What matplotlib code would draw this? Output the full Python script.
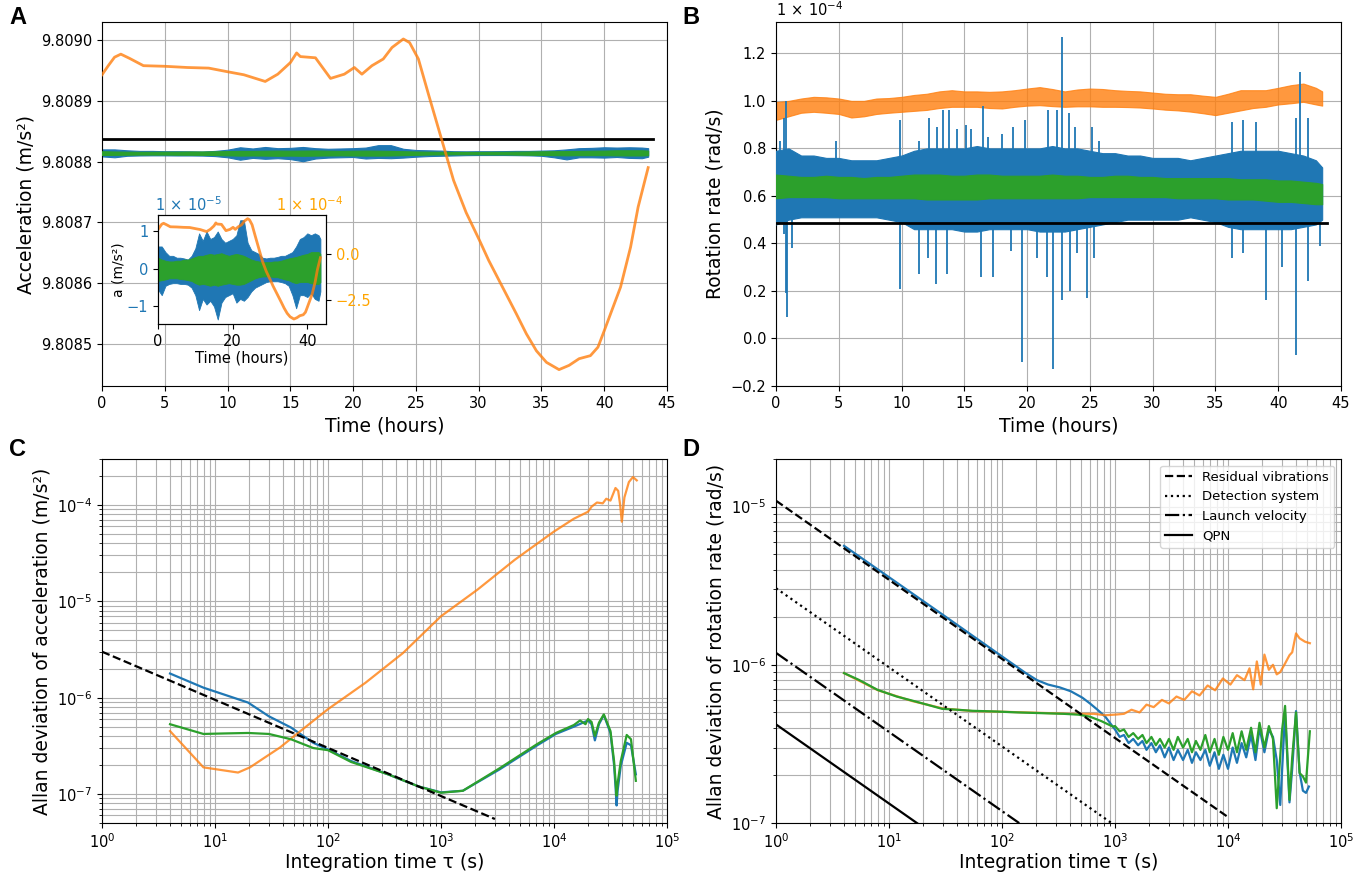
import numpy as np
import matplotlib
matplotlib.use('Agg')
import matplotlib.pyplot as plt
from matplotlib.ticker import FormatStrFormatter

# ---------------- data ----------------
hours = [0, 1, 2, 3, 4, 5, 6, 7, 8, 9, 10, 11, 12, 13, 14, 15, 16, 17, 18, 19, 20,
         21, 22, 23, 24, 25, 26, 27, 28, 29, 30, 31, 32, 33, 34, 35, 36, 37, 38, 39,
         40, 41, 42, 43, 43.5]

# Panel A: deviations of the acceleration (units of 1e-5 m/s^2)
acc_blue_hi = [0.6, 0.6, 0.45, 0.35, 0.35, 0.3, 0.3, 0.28, 0.25, 0.35,
               0.55, 0.95, 0.75, 1.0, 0.8, 0.85, 1.0, 0.8, 0.7, 0.75,
               0.8, 0.9, 1.3, 1.3, 0.7, 0.5, 0.45, 0.4, 0.3, 0.28,
               0.3, 0.3, 0.32, 0.35, 0.35, 0.4, 0.45, 0.6, 0.8, 0.85,
               0.95, 0.9, 0.95, 0.9, 0.8]
acc_blue_lo = [-0.55, -0.7, -0.45, -0.4, -0.38, -0.38, -0.4, -0.4, -0.42, -0.5,
               -0.7, -1.1, -0.8, -0.95, -0.85, -1.0, -1.35, -0.9, -0.75, -0.7,
               -0.65, -0.9, -0.8, -0.85, -0.75, -0.6, -0.5, -0.45, -0.4, -0.35,
               -0.33, -0.33, -0.33, -0.35, -0.38, -0.45, -0.7, -1.05, -0.7, -0.7,
               -0.75, -0.65, -0.8, -0.85, -0.6]
acc_green_hi = [0.3, 0.25, 0.22, 0.2, 0.2, 0.22, 0.22, 0.25, 0.25, 0.28,
                0.32, 0.35, 0.35, 0.38, 0.4, 0.38, 0.4, 0.42, 0.38, 0.35,
                0.38, 0.4, 0.38, 0.35, 0.3, 0.25, 0.22, 0.2, 0.18, 0.18,
                0.18, 0.2, 0.2, 0.22, 0.25, 0.28, 0.3, 0.32, 0.35, 0.38,
                0.4, 0.45, 0.45, 0.45, 0.4]
acc_green_lo = [-0.32, -0.3, -0.28, -0.25, -0.25, -0.25, -0.27, -0.28, -0.3, -0.32,
                -0.38, -0.42, -0.4, -0.42, -0.45, -0.42, -0.45, -0.42, -0.4, -0.38,
                -0.4, -0.42, -0.42, -0.4, -0.35, -0.3, -0.25, -0.22, -0.2, -0.2,
                -0.2, -0.22, -0.22, -0.25, -0.28, -0.3, -0.35, -0.38, -0.35, -0.35,
                -0.35, -0.38, -0.4, -0.4, -0.35]
g_mean = 9.808814          # level of the blue / green records (m/s^2)
g_reference = 9.808837     # black reference line (m/s^2)
orange_mean = 9.80881      # offset removed in the inset
ref_hours = [0, 43.9]

orange_t = [0, 0.5, 1.0, 1.5, 2.2, 3.3, 5, 6.8, 8.5, 10, 11.3, 13, 14, 15, 15.5,
            15.8, 17, 18.2, 19.3, 20.1, 20.7, 21.5, 22.4, 23.1, 24, 24.5, 25.2, 26,
            27, 28, 29, 30, 30.8, 31.9, 33, 33.8, 34.6, 35.4, 36.4, 37.2, 38, 38.9,
            39.5, 40, 41.3, 42.1, 42.7, 43.5]
orange_acc = [9.808943, 9.808958, 9.808972, 9.808977, 9.808970, 9.808958, 9.808957,
              9.808955, 9.808954, 9.808948, 9.808943, 9.808932, 9.808944, 9.808963,
              9.808979, 9.808973, 9.808971, 9.808937, 9.808944, 9.808955, 9.808944,
              9.808958, 9.808969, 9.808988, 9.809002, 9.808996, 9.808969, 9.808911,
              9.808840, 9.808769, 9.808716, 9.808673, 9.808637, 9.808593, 9.808549,
              9.808516, 9.808488, 9.808469, 9.808457, 9.808464, 9.808475, 9.808480,
              9.808494, 9.808521, 9.808593, 9.808659, 9.808725, 9.808790]

# Panel B: rotation rate (units of 1e-4 rad/s)
rot_orange_hi = [0.995, 1.0, 1.01, 1.017, 1.015, 1.01, 1.0, 1.0, 1.01, 1.012,
                 1.017, 1.025, 1.03, 1.04, 1.045, 1.04, 1.04, 1.038, 1.04, 1.045,
                 1.052, 1.058, 1.05, 1.04, 1.048, 1.052, 1.05, 1.045, 1.042, 1.04,
                 1.035, 1.03, 1.028, 1.028, 1.022, 1.017, 1.03, 1.045, 1.045, 1.045,
                 1.055, 1.066, 1.073, 1.055, 1.04]
rot_orange_lo = [0.92, 0.935, 0.95, 0.954, 0.95, 0.945, 0.93, 0.935, 0.945, 0.95,
                 0.954, 0.958, 0.962, 0.97, 0.975, 0.975, 0.975, 0.97, 0.968, 0.975,
                 0.98, 0.982, 0.978, 0.975, 0.977, 0.977, 0.975, 0.975, 0.974, 0.972,
                 0.968, 0.963, 0.96, 0.955, 0.948, 0.94, 0.95, 0.96, 0.97, 0.975,
                 0.985, 0.99, 0.996, 0.985, 0.98]
rot_blue_hi = [0.79, 0.8, 0.77, 0.77, 0.76, 0.76, 0.75, 0.75, 0.75, 0.76,
               0.77, 0.79, 0.8, 0.8, 0.8, 0.8, 0.81, 0.8, 0.8, 0.8,
               0.8, 0.8, 0.81, 0.8, 0.8, 0.79, 0.78, 0.78, 0.77, 0.77,
               0.76, 0.76, 0.76, 0.75, 0.76, 0.77, 0.78, 0.79, 0.79, 0.79,
               0.79, 0.78, 0.77, 0.75, 0.72]
rot_blue_lo = [0.48, 0.5, 0.51, 0.51, 0.51, 0.51, 0.51, 0.51, 0.51, 0.5,
               0.49, 0.46, 0.46, 0.46, 0.46, 0.45, 0.45, 0.46, 0.46, 0.46,
               0.46, 0.45, 0.45, 0.45, 0.46, 0.47, 0.48, 0.49, 0.5, 0.5,
               0.5, 0.5, 0.5, 0.51, 0.5, 0.49, 0.47, 0.46, 0.46, 0.46,
               0.46, 0.46, 0.47, 0.48, 0.5]
rot_green_hi = [0.69, 0.685, 0.68, 0.68, 0.685, 0.68, 0.68, 0.675, 0.68, 0.68,
                0.685, 0.69, 0.69, 0.69, 0.685, 0.685, 0.69, 0.69, 0.685, 0.685,
                0.685, 0.685, 0.69, 0.685, 0.685, 0.68, 0.68, 0.685, 0.685, 0.68,
                0.68, 0.675, 0.675, 0.675, 0.675, 0.675, 0.675, 0.67, 0.67, 0.67,
                0.665, 0.665, 0.66, 0.655, 0.65]
rot_green_lo = [0.59, 0.595, 0.595, 0.595, 0.595, 0.59, 0.59, 0.59, 0.59, 0.59,
                0.59, 0.59, 0.585, 0.585, 0.585, 0.585, 0.585, 0.59, 0.59, 0.59,
                0.59, 0.59, 0.59, 0.59, 0.59, 0.595, 0.595, 0.595, 0.595, 0.595,
                0.595, 0.595, 0.59, 0.59, 0.59, 0.59, 0.585, 0.585, 0.585, 0.58,
                0.575, 0.575, 0.57, 0.565, 0.565]
spike_up_t = [0.35, 0.6, 0.8, 4.8, 9.9, 11.4, 12.2, 12.8, 13.3, 13.8, 14.4, 15.1,
              15.5, 16.5, 16.9, 18.0, 18.9, 19.8, 21.7, 22.4, 22.75, 23.3, 23.8,
              25.2, 25.7, 36.3, 37.2, 38.2, 41.4, 41.7, 42.4]
spike_up_v = [0.83, 0.93, 1.0, 0.83, 0.92, 0.83, 0.93, 0.89, 0.96, 0.96, 0.88, 0.90,
              0.88, 0.98, 0.85, 0.86, 0.89, 0.92, 0.96, 0.96, 1.27, 0.95, 0.89,
              0.89, 0.83, 0.91, 0.92, 0.91, 0.93, 1.12, 0.93]
spike_dn_t = [0.63, 0.8, 0.9, 1.25, 9.9, 11.4, 12.1, 12.75, 13.6, 16.3, 17.3, 18.7,
              19.6, 20.8, 21.6, 22.1, 22.75, 23.4, 24.0, 24.8, 25.3, 36.3, 37.2,
              39.0, 40.3, 41.4, 42.4, 43.3]
spike_dn_v = [0.44, 0.19, 0.09, 0.38, 0.21, 0.27, 0.34, 0.23, 0.27, 0.26, 0.26, 0.37,
              -0.10, 0.34, 0.26, -0.13, 0.16, 0.20, 0.36, 0.17, 0.34, 0.34, 0.36,
              0.16, 0.30, -0.07, 0.24, 0.39]
rot_reference = 0.485

# Panel C: Allan deviation of acceleration (m/s^2)
tau_c_blue = [4, 7.9, 19.6, 30, 47, 74, 100, 160, 340, 630, 1000, 1560, 3300, 7100,
              10400, 15000, 20000, 21500, 23000, 25000, 27600, 31600, 34000, 35000,
              35800, 36600, 39000, 44000, 48000, 53000]
adev_c_blue = [1.78e-6, 1.27e-6, 8.9e-7, 6.4e-7, 4.9e-7, 3.4e-7, 2.9e-7, 2.2e-7,
               1.6e-7, 1.2e-7, 1.04e-7, 1.08e-7, 1.8e-7, 3.2e-7, 4.2e-7, 5.0e-7,
               5.8e-7, 5.3e-7, 3.6e-7, 5.3e-7, 6.6e-7, 4.3e-7, 2.0e-7, 1.2e-7,
               7.6e-8, 1.1e-7, 1.96e-7, 3.4e-7, 3.2e-7, 1.6e-7]
tau_c_green = [4, 7.9, 12, 19.6, 30, 47, 74, 100, 160, 340, 630, 1000, 1560, 3300,
               7100, 10400, 15000, 17000, 19000, 20000, 21500, 23000, 25000, 27600,
               31600, 34000, 35000, 35800, 36600, 39000, 44000, 48000, 53000]
adev_c_green = [5.3e-7, 4.2e-7, 4.25e-7, 4.3e-7, 4.2e-7, 3.7e-7, 3.0e-7, 2.85e-7,
                2.15e-7, 1.6e-7, 1.2e-7, 1.03e-7, 1.08e-7, 1.85e-7, 3.3e-7, 4.3e-7,
                5.2e-7, 5.8e-7, 5.3e-7, 6.0e-7, 5.6e-7, 4.0e-7, 5.5e-7, 6.7e-7,
                4.5e-7, 2.2e-7, 1.4e-7, 9.6e-8, 1.3e-7, 2.2e-7, 4.1e-7, 3.7e-7, 1.37e-7]
tau_c_orange = [4, 7.9, 16, 20.4, 27.7, 37.6, 55, 100, 215, 460, 1000, 2100, 4500,
                10000, 15000, 20000, 21500, 24000, 27000, 29000, 31600, 35000, 37000,
                38500, 39800, 42000, 46000, 50000, 54000]
adev_c_orange = [4.5e-7, 1.89e-7, 1.67e-7, 1.89e-7, 2.4e-7, 3.04e-7, 4.35e-7, 7.6e-7,
                 1.43e-6, 2.9e-6, 7.0e-6, 1.32e-5, 2.7e-5, 5.3e-5, 7.2e-5, 8.5e-5,
                 9.6e-5, 1.06e-4, 1.04e-4, 1.16e-4, 1.11e-4, 1.5e-4, 1.4e-4, 1.0e-4,
                 6.7e-5, 1.2e-4, 1.73e-4, 1.95e-4, 1.8e-4]
tau_c_vib = [1, 3000]
adev_c_vib = [3.0e-6, 5.5e-8]

# Panel D: Allan deviation of rotation rate (rad/s)
tau_d_blue = [4, 10, 30, 100, 161, 204, 256, 324, 407, 514, 600, 700, 820,
              1000, 1100, 1200, 1320, 1450, 1600, 1750, 1900, 2100, 2300, 2500, 2750,
              3000, 3300, 3600, 4000, 4400, 4800, 5200, 5700, 6300, 6900, 7600, 8300,
              9100, 10000, 11000, 12000, 13200, 14500, 16000, 17500, 19000, 21000,
              23000, 25000, 27000, 29000, 32000, 35000, 37000, 40000, 43000, 46000,
              49000, 52000]
adev_d_blue = [5.65e-6, 3.58e-6, 2.07e-6, 1.13e-6, 8.9e-7, 8.0e-7, 7.5e-7, 7.2e-7,
               6.8e-7, 6.2e-7, 5.7e-7, 5.2e-7, 4.7e-7,
               3.9e-7, 3.5e-7, 3.6e-7, 3.2e-7, 3.4e-7, 3.1e-7, 3.3e-7, 2.9e-7, 3.2e-7,
               2.8e-7, 3.1e-7, 2.6e-7, 3.0e-7, 2.5e-7, 2.9e-7, 2.5e-7, 2.9e-7, 2.4e-7,
               2.8e-7, 2.5e-7, 2.9e-7, 2.3e-7, 2.8e-7, 2.2e-7, 2.7e-7, 2.2e-7, 3.0e-7,
               2.4e-7, 3.2e-7, 2.6e-7, 3.6e-7, 2.5e-7, 4.0e-7, 2.8e-7, 3.9e-7, 3.5e-7,
               2.5e-7, 1.3e-7, 4.95e-7, 1.35e-7, 2.2e-7, 5.1e-7, 2.1e-7, 1.6e-7,
               1.55e-7, 1.7e-7]
tau_d_green = [4, 5.4, 7.9, 11.7, 15.9, 21.7, 29.5, 40, 54.6, 87, 138, 219, 350, 474,
               600, 760, 955,
               1000, 1100, 1200, 1320, 1450, 1600, 1750, 1900, 2100, 2300, 2500, 2750,
               3000, 3300, 3600, 4000, 4400, 4800, 5200, 5700, 6300, 6900, 7600, 8300,
               9100, 10000, 11000, 12000, 13200, 14500, 16000, 17500, 19000, 21000,
               23000, 25000, 27000, 30000, 32000, 35000, 37000, 40000, 43000, 46000,
               49000, 53000]
adev_d_green = [8.86e-7, 8.04e-7, 6.95e-7, 6.3e-7, 5.95e-7, 5.6e-7, 5.27e-7, 5.2e-7,
                5.12e-7, 5.07e-7, 5.0e-7, 4.95e-7, 4.9e-7, 4.84e-7, 4.7e-7, 4.4e-7,
                4.07e-7,
                4.1e-7, 3.8e-7, 3.9e-7, 3.5e-7, 3.7e-7, 3.4e-7, 3.6e-7, 3.2e-7, 3.5e-7,
                3.1e-7, 3.4e-7, 3.0e-7, 3.4e-7, 2.9e-7, 3.5e-7, 3.0e-7, 3.4e-7, 2.8e-7,
                3.3e-7, 2.9e-7, 3.6e-7, 2.8e-7, 3.4e-7, 2.7e-7, 3.5e-7, 2.9e-7, 3.7e-7,
                2.8e-7, 3.8e-7, 2.9e-7, 4.0e-7, 2.8e-7, 4.3e-7, 3.0e-7, 4.1e-7, 3.4e-7,
                1.24e-7, 3.8e-7, 5.5e-7, 1.4e-7, 2.6e-7, 5.0e-7, 2.07e-7, 1.97e-7,
                1.8e-7, 3.8e-7]
tau_d_orange = [4, 8, 16, 30, 54.6, 100, 200, 400, 650, 820, 1030, 1200, 1400, 1650,
                1900, 2200, 2600, 3000, 3500, 4100, 4800, 5600, 6600, 7700, 9000, 10500,
                12000, 14000, 15500, 16700, 18000, 19500, 21000, 23000, 25000, 27000,
                29000, 32000, 35000, 37000, 40000, 43000, 48000, 53000]
adev_d_orange = [8.86e-7, 6.9e-7, 5.9e-7, 5.3e-7, 5.1e-7, 5.05e-7, 4.98e-7, 4.9e-7,
                 4.9e-7, 4.8e-7, 4.85e-7, 4.9e-7, 5.2e-7, 5.0e-7, 5.6e-7, 5.4e-7, 6.0e-7,
                 5.7e-7, 6.3e-7, 6.0e-7, 6.8e-7, 6.4e-7, 7.4e-7, 6.9e-7, 8.2e-7, 7.5e-7,
                 8.6e-7, 8.0e-7, 9.5e-7, 7.0e-7, 1.05e-6, 7.5e-7, 1.16e-6, 9.3e-7, 1.0e-6,
                 8.7e-7, 9.0e-7, 1.02e-6, 1.15e-6, 1.2e-6, 1.58e-6, 1.47e-6, 1.4e-6,
                 1.37e-6]
tau_d_model = [1, 10000]
adev_d_vib = [1.09e-5, 1.09e-7]
adev_d_det = [3.05e-6, 3.05e-8]
adev_d_launch = [1.19e-6, 1.19e-8]
adev_d_qpn = [4.2e-7, 4.2e-9]
model_labels = ['Residual vibrations', 'Detection system', 'Launch velocity', 'QPN']

# ---------------- style ----------------
BLUE = '#1f77b4'
ORANGE = '#ff7f0e'
GREEN = '#2ca02c'
OA = 0.8
TICK = 10.5
LAB = 13.5

plt.rcParams['font.family'] = ['DejaVu Sans']
plt.rcParams['xtick.labelsize'] = TICK
plt.rcParams['ytick.labelsize'] = TICK

W, H = 1363, 875
fig = plt.figure(figsize=(W / 100, H / 100), dpi=100)


def box(x0, y0, x1, y1):
    return [x0 / W, 1 - y1 / H, (x1 - x0) / W, (y1 - y0) / H]


axA = fig.add_axes(box(102, 22, 667, 386))
axB = fig.add_axes(box(776, 22, 1341, 386))
axC = fig.add_axes(box(102, 459, 667, 823))
axD = fig.add_axes(box(776, 459, 1341, 823))
axI = fig.add_axes(box(158, 215, 326, 324))

h = np.array(hours)

# ---- Panel A ----
axA.fill_between(h, g_mean + np.array(acc_blue_lo) * 1e-5, g_mean + np.array(acc_blue_hi) * 1e-5,
                 color=BLUE, lw=0.8, zorder=2)
axA.fill_between(h, g_mean + np.array(acc_green_lo) * 1e-5, g_mean + np.array(acc_green_hi) * 1e-5,
                 color=GREEN, lw=0.8, zorder=3)
axA.plot(ref_hours, [g_reference, g_reference], color='black', lw=2, zorder=4)
axA.plot(orange_t, orange_acc, color=ORANGE, alpha=OA, lw=2, zorder=5)
axA.set_xlim(0, 45)
axA.set_ylim(9.80843, 9.80903)
axA.set_yticks([9.8085, 9.8086, 9.8087, 9.8088, 9.8089, 9.8090])
axA.yaxis.set_major_formatter(FormatStrFormatter('%.4f'))
axA.set_xticks(range(0, 46, 5))
axA.grid(True)
axA.set_axisbelow(True)
axA.set_xlabel('Time (hours)', fontsize=LAB)
axA.set_ylabel('Acceleration (m/s²)', fontsize=LAB)

# ---- Inset ----
axI.fill_between(h, acc_blue_lo, acc_blue_hi, color=BLUE, lw=0.6)
axI.fill_between(h, acc_green_lo, acc_green_hi, color=GREEN, lw=0.6)
axI.set_xlim(0, 45)
axI.set_ylim(-1.47, 1.44)
axI.set_yticks([-1, 0, 1])
axI.set_xticks([0, 20, 40])
axI.tick_params(axis='y', labelcolor=BLUE)
axI.set_xlabel('Time (hours)', fontsize=10.5, labelpad=1)
axI.set_ylabel('a (m/s²)', fontsize=10, labelpad=1)
axI2 = axI.twinx()
axI2.plot(orange_t, (np.array(orange_acc) - orange_mean) * 1e4, color=ORANGE, alpha=OA, lw=2)
axI2.set_ylim(-3.8, 2.12)
axI2.set_yticks([-2.5, 0.0])
axI2.tick_params(axis='y', labelcolor='orange')
axI.text(-0.02, 1.01, r'$1\,\times\,10^{-5}$', transform=axI.transAxes, color=BLUE,
         fontsize=TICK, ha='left', va='bottom')
axI.text(1.10, 1.01, r'$1\,\times\,10^{-4}$', transform=axI.transAxes, color='orange',
         fontsize=TICK, ha='right', va='bottom')

# ---- Panel B ----
axB.fill_between(h, rot_orange_lo, rot_orange_hi, color=ORANGE, alpha=OA, lw=0.8, zorder=2)
axB.fill_between(h, rot_blue_lo, rot_blue_hi, color=BLUE, lw=0.8, zorder=3)
axB.vlines(spike_up_t, 0.62, spike_up_v, color=BLUE, lw=1.3, zorder=3)
axB.vlines(spike_dn_t, spike_dn_v, 0.62, color=BLUE, lw=1.3, zorder=3)
axB.fill_between(h, rot_green_lo, rot_green_hi, color=GREEN, lw=0.8, zorder=4)
axB.plot(ref_hours, [rot_reference, rot_reference], color='black', lw=2, zorder=5)
axB.set_xlim(0, 45)
axB.set_ylim(-0.2, 1.332)
axB.set_yticks([-0.2, 0.0, 0.2, 0.4, 0.6, 0.8, 1.0, 1.2])
axB.set_xticks(range(0, 46, 5))
axB.grid(True)
axB.set_axisbelow(True)
axB.text(0.0, 1.008, r'$1\,\times\,10^{-4}$', transform=axB.transAxes, fontsize=TICK,
         ha='left', va='bottom')
axB.set_xlabel('Time (hours)', fontsize=LAB)
axB.set_ylabel('Rotation rate (rad/s)', fontsize=LAB)

# ---- Panel C ----
axC.loglog(tau_c_blue, adev_c_blue, color=BLUE, lw=1.6)
axC.loglog(tau_c_orange, adev_c_orange, color=ORANGE, alpha=OA, lw=1.6)
axC.loglog(tau_c_green, adev_c_green, color=GREEN, lw=1.6)
axC.loglog(tau_c_vib, adev_c_vib, 'k--', lw=1.6)
axC.set_xlim(1, 1e5)
axC.set_ylim(5e-8, 3e-4)
axC.grid(True, which='both')
axC.set_axisbelow(True)
axC.set_xlabel('Integration time τ (s)', fontsize=LAB, labelpad=1)
axC.set_ylabel('Allan deviation of acceleration (m/s²)', fontsize=LAB)

# ---- Panel D ----
axD.loglog(tau_d_blue, adev_d_blue, color=BLUE, lw=1.6)
axD.loglog(tau_d_orange, adev_d_orange, color=ORANGE, alpha=OA, lw=1.6)
axD.loglog(tau_d_green, adev_d_green, color=GREEN, lw=1.6)
axD.loglog(tau_d_model, adev_d_vib, 'k--', lw=1.6, label=model_labels[0])
axD.loglog(tau_d_model, adev_d_det, 'k:', lw=1.6, label=model_labels[1])
axD.loglog(tau_d_model, adev_d_launch, 'k-.', lw=1.6, label=model_labels[2])
axD.loglog(tau_d_model, adev_d_qpn, 'k-', lw=1.6, label=model_labels[3])
axD.set_xlim(1, 1e5)
axD.set_ylim(1e-7, 2e-5)
axD.grid(True, which='both')
axD.set_axisbelow(True)
axD.legend(loc='upper right', fontsize=9.5)
axD.set_xlabel('Integration time τ (s)', fontsize=LAB, labelpad=1)
axD.set_ylabel('Allan deviation of rotation rate (rad/s)', fontsize=LAB)

# ---- panel letters ----
for lab, (px, py) in zip('ABCD', [(9, 6), (682, 6), (9, 438), (682, 438)]):
    fig.text(px / W, 1 - py / H, lab, fontsize=17, fontweight='bold',
             family=['Liberation Sans Narrow', 'Liberation Sans', 'DejaVu Sans'],
             ha='left', va='top')

fig.savefig('out.png', dpi=100)
